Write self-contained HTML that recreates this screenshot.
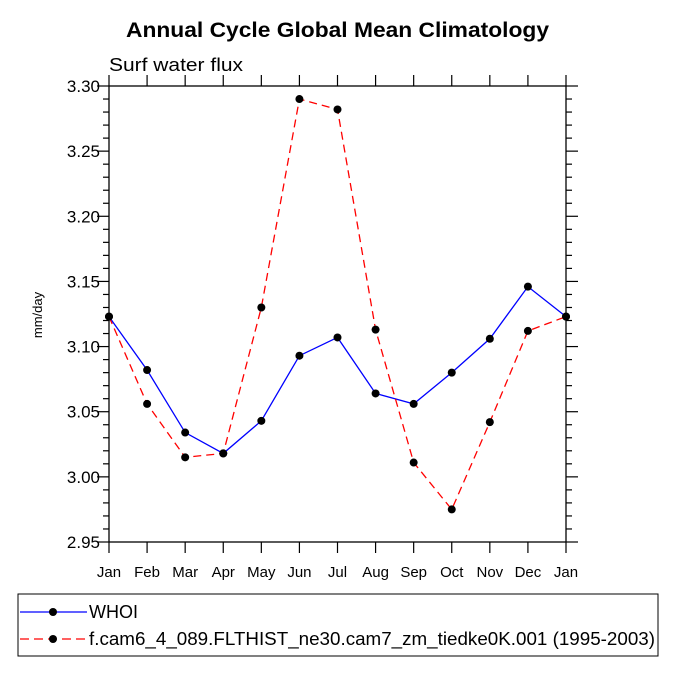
<!DOCTYPE html>
<html><head><meta charset="utf-8"><style>
body{margin:0;background:#fff;font-family:"Liberation Sans",sans-serif}
svg text{font-family:"Liberation Sans",sans-serif}
</style></head><body>
<svg width="675" height="675" viewBox="0 0 675 675">
<text x="126" y="37" textLength="423" lengthAdjust="spacingAndGlyphs" font-size="21" font-weight="bold">Annual Cycle Global Mean Climatology</text>
<text x="109" y="71" textLength="134" lengthAdjust="spacingAndGlyphs" font-size="18">Surf water flux</text>
<text transform="translate(42,315) rotate(-90)" text-anchor="middle" font-size="13">mm/day</text>
<g id="axes"></g>
<g id="series"></g>
<rect x="18" y="594" width="640" height="62" fill="none" stroke="#000" stroke-width="1"/>
<g>
<line x1="20" y1="612" x2="87" y2="612" stroke="#0000ff" stroke-width="1.3"/>
<circle cx="53" cy="612" r="4" fill="#000"/>
<text x="89" y="618" textLength="49" lengthAdjust="spacingAndGlyphs" font-size="18">WHOI</text></g>
<g>
<line x1="20" y1="639" x2="87" y2="639" stroke="#ff0000" stroke-width="1.3" stroke-dasharray="9,5"/>
<circle cx="53" cy="639" r="4" fill="#000"/>
<text x="89" y="645" textLength="566" lengthAdjust="spacingAndGlyphs" font-size="18">f.cam6_4_089.FLTHIST_ne30.cam7_zm_tiedke0K.001 (1995-2003)</text></g>
</svg>
<script>
const months=["Jan","Feb","Mar","Apr","May","Jun","Jul","Aug","Sep","Oct","Nov","Dec","Jan"];
const yTicks=[2.95,3.00,3.05,3.10,3.15,3.20,3.25,3.30];
const whoi=[3.123,3.082,3.034,3.018,3.043,3.093,3.107,3.064,3.056,3.080,3.106,3.146,3.123];
const model=[3.123,3.056,3.015,3.018,3.130,3.290,3.282,3.113,3.011,2.975,3.042,3.112,3.123];
const L=109,R=566,T=86,B=542,ymin=2.95,ymax=3.30;
const NS="http://www.w3.org/2000/svg";
const xs=i=>L+(R-L)*i/(months.length-1);
const ys=v=>B-(v-ymin)/(ymax-ymin)*(B-T);
function mk(tag,attrs,parent,txt){const e=document.createElementNS(NS,tag);for(const k in attrs)e.setAttribute(k,attrs[k]);if(txt!==undefined)e.textContent=txt;parent.appendChild(e);return e;}
const ax=document.getElementById('axes');
const frame=mk('rect',{x:L,y:T,width:R-L,height:B-T,fill:'none',stroke:'#000','stroke-width':1.3},ax);


months.forEach((m,i)=>{const x=xs(i);
mk('line',{x1:x,y1:B,x2:x,y2:B+11,stroke:'#000','stroke-width':1.2},ax);
mk('line',{x1:x,y1:T,x2:x,y2:T-11,stroke:'#000','stroke-width':1.2},ax);
const t=mk('text',{x:x,y:B+35,'text-anchor':'middle','font-size':15},ax,m);

});
for(let v=ymin;v<=ymax+1e-9;v+=0.01){const y=ys(v);const major=Math.abs(Math.round(v*100)%5)===0;const len=major?12:6;
mk('line',{x1:L,y1:y,x2:L-len,y2:y,stroke:'#000','stroke-width':1.2},ax);
mk('line',{x1:R,y1:y,x2:R+len,y2:y,stroke:'#000','stroke-width':1.2},ax);}
yTicks.forEach(v=>{const t=mk('text',{x:L-9,y:ys(v)+6,'text-anchor':'end','font-size':17},ax,v.toFixed(2));

});
const sg=document.getElementById('series');
function series(vals,color,dash,name){const g=mk('g',{},sg);


const pts=vals.map((v,i)=>xs(i)+','+ys(v)).join(' ');
const a={points:pts,fill:'none',stroke:color,'stroke-width':1.3};if(dash)a['stroke-dasharray']=dash;
mk('polyline',a,g);
vals.forEach((v,i)=>{const c=mk('circle',{cx:xs(i),cy:ys(v),r:4,fill:'#000'},g);

});}
series(whoi,'#0000ff',null,'series-whoi');
series(model,'#ff0000','8,5','series-model');
</script>
</body></html>
